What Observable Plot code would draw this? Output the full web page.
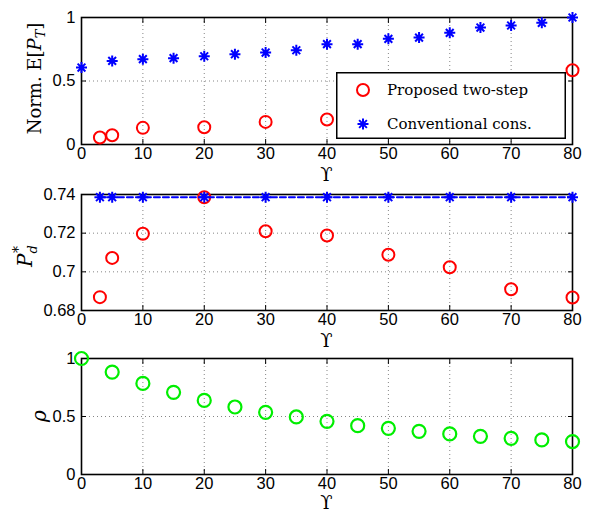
<!DOCTYPE html>
<html><head><meta charset="utf-8">
<script src="https://cdn.jsdelivr.net/npm/d3@7"></script>
<script src="https://cdn.jsdelivr.net/npm/@observablehq/plot@0.6"></script>
<style>
body{margin:0;background:#fff;}
.panel{position:relative;width:596px;}
.panel svg{display:block;}
</style>
</head><body><div id="chart"></div>
<script>
// ---------- data ----------
const xTicks = [0,10,20,30,40,50,60,70,80];
// Panel 1: normalized E[P_T]
const convX = [0,5,10,15,20,25,30,35,40,45,50,55,60,65,70,75,80];
const convEPT = [0.606,0.658,0.672,0.680,0.695,0.711,0.724,0.742,0.790,0.790,0.832,0.842,0.879,0.921,0.937,0.958,1.0];
const propX = [3,5,10,20,30,40,80];
const propEPT = [0.055,0.073,0.131,0.136,0.178,0.197,0.585];
const ticks1 = [0,0.5,1];
// Panel 2: P_d*
const pdX = [3,5,10,20,30,40,50,60,70,80];
const propPd = [0.6869,0.7072,0.7197,0.7386,0.7210,0.7188,0.7088,0.7024,0.6910,0.6867];
const convPd = [0.7386,0.7386,0.7386,0.7386,0.7386,0.7386,0.7386,0.7386,0.7386,0.7386];
const ticks2 = [0.68,0.7,0.72,0.74];
// Panel 3: rho
const rhoX = [0,5,10,15,20,25,30,35,40,45,50,55,60,65,70,75,80];
const rho = [1.0,0.883,0.785,0.708,0.639,0.582,0.536,0.496,0.458,0.421,0.398,0.372,0.350,0.329,0.312,0.298,0.284];
const ticks3 = [0,0.5,1];
const legendLabels = ["Proposed two-step","Conventional cons."];

// ---------- helpers ----------
const asterisk8 = {draw(ctx, size){
  const r = Math.sqrt(size/Math.PI);
  for (let k=0;k<4;k++){ const a=k*Math.PI/4;
    ctx.moveTo(-r*Math.cos(a),-r*Math.sin(a)); ctx.lineTo(r*Math.cos(a),r*Math.sin(a)); }
}};
const ML=81, MR=24, W=596;
const serif = "'DejaVu Serif', 'Liberation Serif', serif";

function panel({height, marginTop, marginBottom, yDomain, yTicks, marks}) {
  const fmt = d => String(d);
  return Plot.plot({
    width: W, height, marginLeft: ML, marginRight: MR, marginTop, marginBottom,
    style: {fontFamily: "'Liberation Sans', Arial, sans-serif", fontSize: "16.5px", color: "black", overflow: "visible", background: "transparent"},
    x: {domain: [0,80]},
    y: {domain: yDomain},
    marks: [
      Plot.gridX(xTicks, {stroke: "#666", strokeOpacity: 0.8, strokeDasharray: "1,3"}),
      Plot.gridY(yTicks, {stroke: "#666", strokeOpacity: 0.8, strokeDasharray: "1,3"}),
      Plot.axisX({ticks: xTicks, tickSize: -5, tickPadding: 8, label: null, tickFormat: fmt}),
      Plot.axisX({anchor: "top", ticks: xTicks, tickSize: -5, label: null, tickFormat: () => ""}),
      Plot.axisY({ticks: yTicks, tickSize: -5, tickPadding: 11, label: null, tickFormat: fmt}),
      Plot.axisY({anchor: "right", ticks: yTicks, tickSize: -5, label: null, tickFormat: () => ""}),
      Plot.frame({stroke: "black", strokeWidth: 1.6}),
      ...marks
    ]
  });
}

function addLabels(svg, {height, marginTop, marginBottom, yLabelX, xLabelOffset, build}) {
  const s = d3.select(svg);
  const bottom = height - marginBottom;
  s.append("text").attr("x", (ML + W - MR)/2).attr("y", bottom + xLabelOffset).attr("dy","0.35em")
    .attr("text-anchor","middle").attr("font-family", serif).attr("font-size", 18).text("ϒ");
  const cy = (marginTop + bottom)/2;
  const t = s.append("text").attr("transform", `translate(${yLabelX},${cy}) rotate(-90)`)
    .attr("text-anchor","middle").attr("dy","0.35em").attr("font-family", serif);
  build(t);
}

const chart = document.getElementById("chart");

// ---------- panel 1 ----------
const p1 = {height: 170, marginTop: 17, marginBottom: 26};
const svg1 = panel({...p1, yDomain: [0,1], yTicks: ticks1, marks: [
  Plot.dot(propX, {x: d => d, y: (d,i) => propEPT[i], r: 6, stroke: "#ff0000", strokeWidth: 2, fill: "none"}),
  Plot.dot(convX, {x: d => d, y: (d,i) => convEPT[i], r: 5.5, symbol: asterisk8, stroke: "#0000ff", strokeWidth: 2, fill: "none"})
]});
addLabels(svg1, {...p1, yLabelX: 35, xLabelOffset: 31, build: t => {
  t.attr("font-size", 18).attr("dx", "2");
  t.append("tspan").text("Norm. E[");
  t.append("tspan").attr("font-style","italic").text("P");
  t.append("tspan").attr("font-style","italic").attr("font-size", 13).attr("dy", 4).text("T");
  t.append("tspan").attr("dy", -4).text("]");
}});
const div1 = document.createElement("div"); div1.className = "panel"; div1.appendChild(svg1);
// legend overlay
const lg = d3.create("svg").attr("width", 230).attr("height", 67)
  .style("position","absolute").style("left","336px").style("top","72px").style("overflow","visible");
lg.append("rect").attr("x",0.75).attr("y",0.75).attr("width",228.5).attr("height",65.5)
  .attr("fill","white").attr("stroke","black").attr("stroke-width",1.5);
lg.append("circle").attr("cx",27).attr("cy",18).attr("r",6).attr("fill","none").attr("stroke","#ff0000").attr("stroke-width",2);
const ap = d3.path(); asterisk8.draw(ap, Math.PI*5.5*5.5);
lg.append("path").attr("transform","translate(27,52)").attr("d", ap.toString()).attr("stroke","#0000ff").attr("stroke-width",2);
legendLabels.forEach((l,i) => lg.append("text").attr("x",51).attr("y", i ? 52 : 18).attr("dy","0.35em")
  .attr("font-family", serif).attr("font-size", 15).text(l));
div1.appendChild(lg.node());
chart.appendChild(div1);

// ---------- panel 2 ----------
const p2 = {height: 170, marginTop: 24, marginBottom: 30};
const svg2 = panel({...p2, yDomain: [0.68,0.74], yTicks: ticks2, marks: [
  Plot.dot(pdX, {x: d => d, y: (d,i) => propPd[i], r: 6, stroke: "#ff0000", strokeWidth: 2, fill: "none"}),
  Plot.line(pdX, {x: d => d, y: (d,i) => convPd[i], stroke: "#0000ff", strokeWidth: 2, strokeDasharray: "6,3"}),
  Plot.dot(pdX, {x: d => d, y: (d,i) => convPd[i], r: 5.5, symbol: asterisk8, stroke: "#0000ff", strokeWidth: 2, fill: "none"})
]});
addLabels(svg2, {...p2, yLabelX: 25, xLabelOffset: 31, build: t => {
  t.attr("font-size", 20).attr("dx","-4");
  t.append("tspan").attr("font-style","italic").text("P");
  t.append("tspan").attr("font-style","italic").attr("font-size", 13).attr("dy", 5).attr("dx", 0).text("d");
  t.append("tspan").attr("font-size", 14).attr("dy", -14).attr("dx", -8).text("*");
}});
const div2 = document.createElement("div"); div2.className = "panel"; div2.appendChild(svg2);
chart.appendChild(div2);

// ---------- panel 3 ----------
const p3 = {height: 173, marginTop: 18, marginBottom: 39};
const svg3 = panel({...p3, yDomain: [0,1], yTicks: ticks3, marks: [
  Plot.dot(rhoX, {x: d => d, y: (d,i) => rho[i], r: 6.5, stroke: "#00ee00", strokeWidth: 2.2, fill: "none"})
]});
addLabels(svg3, {...p3, yLabelX: 39, xLabelOffset: 29, build: t => {
  t.attr("font-size", 20).attr("font-style","italic").text("ρ");
}});
const div3 = document.createElement("div"); div3.className = "panel"; div3.appendChild(svg3);
chart.appendChild(div3);
</script>
</body></html>
